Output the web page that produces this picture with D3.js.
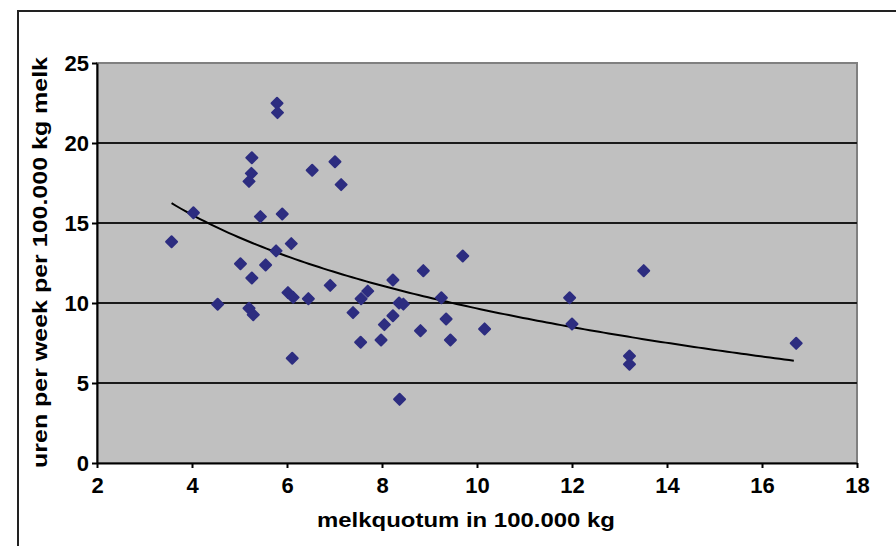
<!DOCTYPE html>
<html>
<head>
<meta charset="utf-8">
<script src="https://cdn.jsdelivr.net/npm/d3@7"></script>
<style>
  body { margin: 0; background: #fff; }
  text { font-family: "Liberation Sans", Arial, sans-serif; font-weight: bold; fill: #000; }
</style>
</head>
<body>
<div id="chart"></div>
<script>
// melkquotum (100.000 kg) vs uren per week per 100.000 kg melk
var quotum = [3.57, 4.03, 4.54, 5.02, 5.20, 5.20, 5.25, 5.26, 5.26, 5.29,
              5.44, 5.55, 5.77, 5.79, 5.80, 5.90, 6.02, 6.09, 6.11, 6.13,
              6.45, 6.53, 6.91, 7.01, 7.14, 7.39, 7.55, 7.56, 7.70, 7.98,
              8.05, 8.23, 8.23, 8.37, 8.36, 8.45, 8.81, 8.87, 9.25, 9.35,
              9.44, 9.70, 10.16, 11.95, 12.00, 13.21, 13.21, 13.51, 16.72];
var uren = [13.83, 15.64, 9.92, 12.45, 9.67, 17.6, 18.1, 19.08, 11.56, 9.27,
            15.4, 12.38, 13.26, 22.48, 21.9, 15.56, 10.65, 13.71, 6.55, 10.35,
            10.27, 18.3, 11.1, 18.83, 17.4, 9.4, 7.55, 10.27, 10.74, 7.69,
            8.65, 9.2, 11.44, 3.98, 10.0, 9.93, 8.27, 12.02, 10.33, 9.0,
            7.69, 12.94, 8.38, 10.33, 8.69, 6.69, 6.17, 12.02, 7.48];
var xTicks = [2, 4, 6, 8, 10, 12, 14, 16, 18];
var yTicks = [0, 5, 10, 15, 20, 25];

var W = 896, H = 546;
var plotL = 97, plotR = 857, plotT = 63, plotB = 463;

var svg = d3.select('#chart').append('svg')
  .attr('width', W)
  .attr('height', H);

// outer chart border (right and bottom fall outside the picture)
svg.append('path')
  .attr('d', 'M18,' + H + 'V11H' + W)
  .attr('fill', 'none')
  .attr('stroke', '#222')
  .attr('stroke-width', 2);

var x = d3.scaleLinear().domain([2, 18]).range([plotL, plotR]);
var y = d3.scaleLinear().domain([0, 25]).range([plotB, plotT]);

// plot area
svg.append('rect')
  .attr('x', plotL).attr('y', plotT)
  .attr('width', plotR - plotL).attr('height', plotB - plotT)
  .attr('fill', '#c0c0c0')
  .attr('stroke', '#808080')
  .attr('stroke-width', 2);

// gridlines
svg.selectAll('.grid')
  .data(yTicks.filter(function(d) { return d > 0 && d < 25; }))
  .enter().append('line')
  .attr('class', 'grid')
  .attr('x1', plotL).attr('x2', plotR)
  .attr('y1', function(d) { return y(d); })
  .attr('y2', function(d) { return y(d); })
  .attr('stroke', '#1a1a1a')
  .attr('stroke-width', 2);

// axes
var xAxis = svg.append('g')
  .attr('transform', 'translate(0,' + plotB + ')')
  .call(d3.axisBottom(x).tickValues(xTicks).tickSize(5).tickSizeOuter(0));
var yAxis = svg.append('g')
  .attr('transform', 'translate(' + plotL + ',0)')
  .call(d3.axisLeft(y).tickValues(yTicks).tickSize(5).tickSizeOuter(0));

[xAxis, yAxis].forEach(function(g) {
  g.attr('font-size', null).attr('font-family', null);
  g.select('.domain').attr('stroke', '#000').attr('stroke-width', 2);
  g.selectAll('.tick line').attr('stroke', '#000').attr('stroke-width', 2);
  g.selectAll('.tick text')
    .style('font-size', '22px')
    .style('font-weight', 'bold')
    .style('font-family', '"Liberation Sans", Arial, sans-serif')
    .attr('fill', '#000');
});
xAxis.selectAll('.tick text').attr('y', 14).attr('dy', '0.71em');
yAxis.selectAll('.tick text').attr('x', -8).attr('dy', '0.36em');

// logarithmic trendline fitted on the points
var lx = quotum.map(Math.log);
var n = lx.length;
var mx = d3.mean(lx), my = d3.mean(uren);
var sxy = 0, sxx = 0;
for (var i = 0; i < n; i++) {
  sxy += (lx[i] - mx) * (uren[i] - my);
  sxx += (lx[i] - mx) * (lx[i] - mx);
}
var b = sxy / sxx, a = my - b * mx;
var trendX = d3.range(d3.min(quotum), d3.max(quotum) + 0.001, 0.1);

svg.append('path')
  .datum(trendX)
  .attr('d', d3.line()
    .x(function(d) { return x(d); })
    .y(function(d) { return y(a + b * Math.log(d)); }))
  .attr('fill', 'none')
  .attr('stroke', '#000')
  .attr('stroke-width', 2);

// diamond markers
svg.selectAll('.pt')
  .data(d3.range(n))
  .enter().append('path')
  .attr('class', 'pt')
  .attr('d', 'M0,-5.5L5.5,0L0,5.5L-5.5,0Z')
  .attr('transform', function(i) {
    return 'translate(' + x(quotum[i]) + ',' + y(uren[i]) + ')';
  })
  .attr('fill', '#2d2d80')
  .attr('stroke', '#2d2d80')
  .attr('stroke-width', 2)
  .attr('stroke-linejoin', 'round');

// axis titles
svg.append('text')
  .attr('x', 466).attr('y', 527)
  .attr('text-anchor', 'middle')
  .attr('font-size', 21)
  .attr('textLength', 298)
  .attr('lengthAdjust', 'spacingAndGlyphs')
  .text('melkquotum in 100.000 kg');

svg.append('text')
  .attr('transform', 'translate(47,262.5) rotate(-90)')
  .attr('text-anchor', 'middle')
  .attr('font-size', 21)
  .attr('textLength', 411)
  .attr('lengthAdjust', 'spacingAndGlyphs')
  .text('uren per week per 100.000 kg melk');
</script>
</body>
</html>
